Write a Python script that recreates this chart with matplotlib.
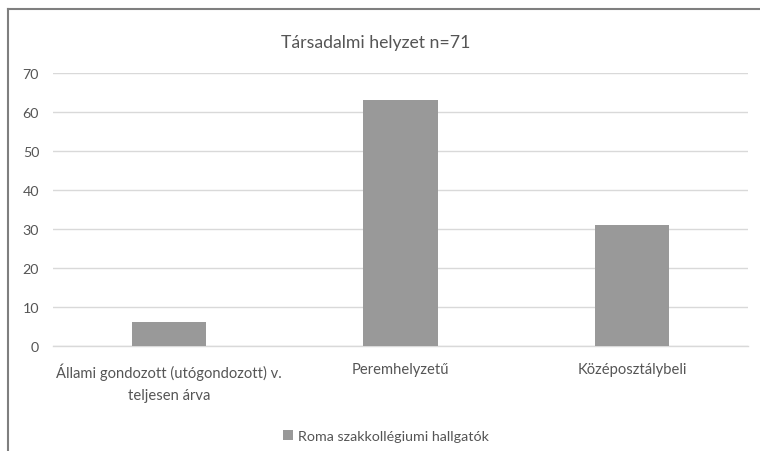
import matplotlib
matplotlib.use("Agg")
import matplotlib.pyplot as plt
from matplotlib.lines import Line2D

plt.rcParams['font.family'] = ['Lato', 'DejaVu Sans']

# Data
title = "Társadalmi helyzet n=71"
categories = ["Állami gondozott (utógondozott) v.\nteljesen árva", "Peremhelyzetű", "Középosztálybeli"]
values = [6, 63, 31]
series_name = "Roma szakkollégiumi hallgatók"
yticks = [0, 10, 20, 30, 40, 50, 60, 70]

text_color = "#555555"
bar_color = "#999999"
grid_color = "#d9d9d9"

fig = plt.figure(figsize=(7.6, 4.52), dpi=100)
fig.patch.set_facecolor("white")
ax = fig.add_axes([53 / 760, 1 - 346.8 / 452, (748 - 53) / 760, (346.8 - 74) / 452])

x = list(range(len(categories)))
bars = ax.bar(x, values, width=0.32, color=bar_color, label=series_name, zorder=3)

ax.set_xlim(-0.5, len(categories) - 0.5)
ax.set_ylim(0, 70)
ax.set_yticks(yticks)
ax.set_yticklabels([str(t) for t in yticks], color=text_color, fontsize=10.3)
ax.set_xticks(x)
ax.set_xticklabels(categories, color=text_color, fontsize=10.6, linespacing=1.75)
ax.tick_params(axis="both", length=0)
ax.tick_params(axis="x", pad=12)
ax.tick_params(axis="y", pad=10)
for lab in ax.get_yticklabels():
    lab.set_horizontalalignment("right")

ax.grid(axis="y", color=grid_color, linewidth=1.0, zorder=0)
for side in ["top", "right", "left"]:
    ax.spines[side].set_visible(False)
ax.spines["bottom"].set_color(grid_color)
ax.spines["bottom"].set_linewidth(1.0)

fig.text(376 / 760, 1 - 43 / 452, title, ha="center", va="center", fontsize=12.7, color=text_color)

leg = fig.legend(handles=[bars], labels=[series_name], loc="center", bbox_to_anchor=(386 / 760, 1 - 437 / 452),
                 frameon=False, fontsize=10.3, handlelength=0.7, handleheight=0.7, handletextpad=0.3,
                 labelcolor=text_color)

# Chart frame (top and left edges)
fig.add_artist(Line2D([8 / 760, 1.0], [1 - 10 / 452, 1 - 10 / 452], transform=fig.transFigure,
                      color="#7f7f7f", linewidth=1.5))
fig.add_artist(Line2D([8 / 760, 8 / 760], [0.0, 1 - 10 / 452], transform=fig.transFigure,
                      color="#7f7f7f", linewidth=1.5))

fig.savefig("out.png", dpi=100)
